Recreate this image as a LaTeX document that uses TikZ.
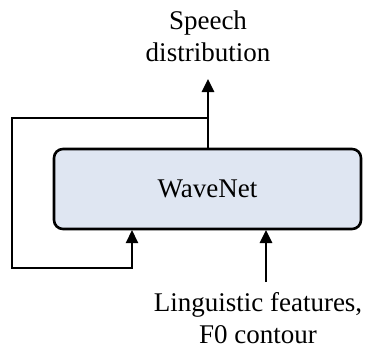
\documentclass[tikz,border=0pt]{standalone}
\usepackage{fontspec}
\setmainfont{Liberation Serif}
\usetikzlibrary{arrows.meta,positioning}
\definecolor{boxfill}{HTML}{DFE6F2}

\begin{document}
\begin{tikzpicture}[
    x=1pt, y=-1pt,
    >={Triangle[width=12pt,length=13pt]},
    every node/.style={font=\fontsize{27}{32}\selectfont},
    netbox/.style={draw, line width=2.6pt, rounded corners=9pt, fill=boxfill,
      minimum width=307pt, minimum height=80pt, inner sep=0pt},
    flow/.style={->, line width=2.6pt},
    loopline/.style={->, line width=2pt}
  ]
    \useasboundingbox (0,0) rectangle (368,351);

    % ノード
    \node[netbox] (net) at (207.5,189) {WaveNet};
    \node[align=center] (out) at (208,36) {Speech\\distribution};
    \node[align=center] (cond) at (258,318) {Linguistic features,\\F0 contour};

    % 端点
    \coordinate (outtip) at (208,79);
    \coordinate (fbsplit) at (208,118);
    \coordinate (fbleft) at (12,118);
    \coordinate (fbbottom) at (12,268);
    \coordinate (fbright) at (132,268);
    \coordinate (fbin) at (132,230);
    \coordinate (condtail) at (266,282);
    \coordinate (condin) at (266,230);

    % 出力
    \draw[flow] (net.north -| outtip) -- (outtip);

    % フィードバック
    \draw[loopline] (fbsplit) -- (fbleft) -- (fbbottom) -- (fbright) -- (fbin);

    % 条件入力
    \draw[flow] (condtail) -- (condin);

  \end{tikzpicture}
\end{document}
